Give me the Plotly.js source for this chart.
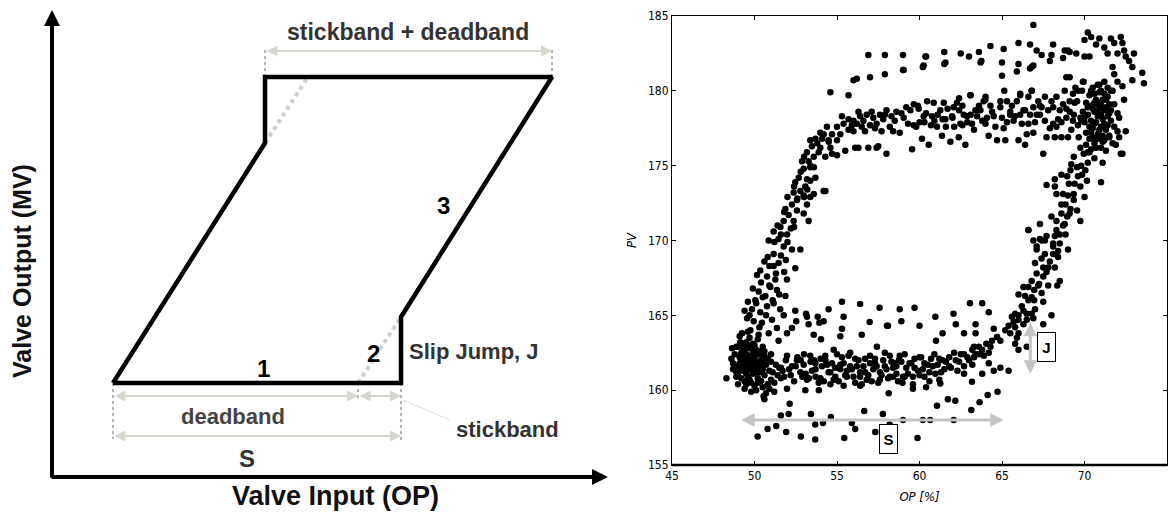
<!DOCTYPE html>
<html>
<head>
<meta charset="utf-8">
<script src="https://cdn.plot.ly/plotly-3.0.1.min.js"></script>
<style>html,body{margin:0;padding:0;background:#fff;}#chart{width:1171px;height:516px;}</style>
</head>
<body>
<div id="chart"></div>
<script>
// ---------- Left panel: stiction schematic (diagram units: px right of / above the axis corner) ----------
const loopX = [61, 349, 349, 500, 213, 213, 61];
const loopY = [94, 94, 160, 400, 400, 334, 94];
const idealUpperX = [213, 256];
const idealUpperY = [334, 400];
const idealLowerX = [306, 349];
const idealLowerY = [94, 160];
const dimTicksX = [[213, 213], [500, 500], [61, 61], [306, 306], [349, 349]];
const dimTicksY = [[400, 428], [400, 428], [94, 38], [94, 77], [94, 37]];
const leaderX = [351, 398];
const leaderY = [77, 57];
const axisCornerX = 0, axisCornerY = 0, yAxisTop = 467, xAxisEnd = 556;
const dimArrows = [ // [x0, x1, y]
  [213, 500, 426],
  [61, 306, 81],
  [306, 349, 81],
  [61, 349, 41]
];
const diagramLabels = ["stickband + deadband", "deadband", "S", "1", "2", "3", "Slip Jump, J", "stickband"];
const diagramLabelX = [356, 181, 195, 211, 321, 391, 422, 455];
const diagramLabelY = [445, 61, 19, 109, 124, 272, 126, 48];
const diagramLabelSize = [23, 22, 24, 24, 24, 24, 22, 22];
const diagramLabelColor = ["#333", "#444", "#333", "#000", "#000", "#000", "#333", "#333"];

// ---------- Right panel: OP (%) vs PV scatter ----------
const opLowCluster = [48.3,48.7,48.8,48.9,49.0,49.0,49.1,49.2,49.2,49.3,49.3,49.4,49.4,49.5,49.5,49.5,49.6,49.6,49.7,49.7,49.7,49.8,49.8,49.9,49.9,50.0,50.0,50.0,50.1,50.1,50.2,50.2,50.3,50.3,50.4,50.4,50.5,50.5,50.6,50.6,50.7,50.8,50.8,50.9,51.0,51.0,51.1,51.2,51.3,51.4,51.5,51.6,51.7,49.1,49.6,49.9,50.2,50.5,49.4,49.8,50.1,48.9,49.3,50.7,51.2,50.6,49.5,49.9,50.3,49.2,49.6,50.0,50.4,48.6,48.8,51.0,49.0,50.9,48.64,48.7,
  49.0,49.2,49.4,49.6,49.8,50.0,50.2,50.4,50.6,49.1,49.3,49.5,49.7,49.9,50.1,50.3,50.5,49.2,49.6,50.0,50.4,49.4,49.8,50.2,48.9];
const pvLowCluster = [160.8,161.8,162.4,161.2,162.9,161.6,162.2,160.8,161.9,162.6,161.3,162.0,160.6,163.2,161.7,162.4,160.9,162.8,161.4,162.1,163.5,160.5,161.8,162.6,161.1,162.2,160.3,163.0,161.5,162.7,160.8,161.9,162.4,161.2,160.6,162.0,161.4,160.2,162.3,161.0,161.7,160.4,162.1,161.3,160.7,161.9,161.2,160.5,161.7,161.0,161.5,160.8,161.3,163.6,163.9,163.1,163.4,162.9,160.1,159.9,160.0,162.9,163.0,159.8,159.9,159.4,161.1,161.6,161.7,161.4,162.3,161.3,162.6,162.1,161.5,162.4,160.4,160.1,162.8,161.4,
  161.1,162.5,161.6,161.4,163.0,161.8,162.4,161.5,162.6,161.8,162.2,160.4,160.7,162.0,161.2,160.6,161.9,163.1,161.9,162.6,161.8,162.8,162.3,160.5,160.9];

const opLeftRise = [52.47,51.97,51.87,51.16,51.46,51.26,50.76,50.35,50.15,50.96,51.36,50.66,50.25,50.05,51.16,51.56,50.76,50.35,49.85,49.55,49.95,50.45,51.06,51.36,50.86,50.25,49.75,49.24,49.14,51.46,51.77,51.97,49.4,49.6,49.9,50.4,50.6,50.9,51.6,51.8,
  50.86,51.16,51.46,51.97,51.77,51.16,52.27,52.78,51.57,51.77,52.07,52.37,51.87,52.27,52.57,52.98,53.28,52.57,52.98,53.18,52.78,52.37,52.47,53.08,53.38,53.59,52.68,52.98,53.18,53.38,53.69,54.19,52.88,53.28,53.59,53.38,53.89,53.18,53.48,53.69,53.99,53.38,54.19,54.29,54.6,54.49,54.7,55.0,55.0,54.39,53.99,54.7,55.2,55.4,55.7,54.3,55.5,55.0,
  49.7,50.1,50.5,50.9,51.3,50.3,50.7,51.1,51.5,51.9,50.8,51.2,51.6,52.0,52.4,51.4,51.8,52.2,52.6,53.0,52.0,52.4,52.8,53.2,53.6,53.0,53.4,53.8,54.1,54.5];
const pvLeftRise = [168.15,167.4,166.3,168.3,168.5,167.4,167.6,168.0,167.7,166.9,166.7,166.3,166.6,166.0,165.8,165.4,165.6,165.2,165.4,164.8,164.6,164.5,164.7,164.15,163.8,163.7,164.0,163.8,163.2,163.3,165.0,163.8,165.3,165.9,166.8,167.2,168.6,168.3,169.0,167.9,
  170.0,170.6,170.1,170.4,169.6,169.1,169.4,169.4,170.9,171.3,171.7,171.3,172.1,172.4,172.0,171.8,171.3,172.7,173.0,172.4,173.3,173.2,173.9,173.6,172.9,173.1,174.2,174.8,174.1,174.0,174.2,173.3,175.3,175.3,175.6,174.9,175.9,175.9,176.3,176.8,176.2,176.7,177.1,175.6,176.2,176.7,177.1,177.6,176.7,177.6,177.2,175.8,177.1,177.8,177.4,173.3,176.0,175.7,
  165.0,165.8,166.2,167.0,167.8,164.2,165.0,166.0,166.4,168.7,168.9,169.9,170.4,169.9,170.9,171.0,171.9,170.8,172.8,172.9,172.9,173.6,174.6,173.4,174.9,175.6,175.0,176.5,176.8,176.6];

const opTopBand = [55.3,55.7,56.0,56.0,56.2,56.4,56.6,56.8,57.0,57.2,57.4,57.6,57.8,58.0,58.2,58.5,58.6,56.3,56.1,57.5,58.0,56.9,57.4,
  59.04,59.45,59.65,59.55,59.65,59.95,60.25,60.15,60.46,60.56,60.76,60.86,61.06,61.26,61.36,61.47,61.57,61.87,61.97,62.07,62.27,62.38,62.48,62.68,62.78,62.88,63.08,63.18,63.39,63.49,63.69,63.89,63.99,64.09,64.19,64.4,64.7,64.9,65.0,65.2,65.3,65.5,65.7,65.9,66.0,66.1,66.3,66.4,66.5,66.6,66.7,66.8,66.9,67.0,67.2,67.3,67.5,67.6,67.7,67.8,68.0,68.1,68.2,68.3,68.5,68.6,68.7,68.8,68.9,69.0,69.1,69.2,69.35,69.45,69.55,69.65,69.75,69.85,69.95,
  56.5,57.1,57.7,58.3,58.8,59.2,59.8,60.3,60.9,61.7,62.1,62.6,63.3,63.8,64.3,64.6,65.1,65.6,66.2,66.9,67.4,67.9,68.4,68.9,69.3,69.6,
  55.9,56.3,56.7,57.3,57.9,58.4,58.9,59.3,59.9,60.4,60.7,61.1,61.6,62.0,62.4,62.9,63.1,63.6,64.0,64.5,64.9,65.3,65.8,66.1,66.6,67.1,67.6,68.1,68.6,69.1,69.4,69.8,60.0,61.4,62.6,63.9,65.5,66.4,67.3,68.3];
const pvTopBand = [178.3,178.1,178.0,177.3,177.8,178.3,178.0,178.4,177.7,178.2,177.8,178.4,178.1,178.7,177.6,178.0,178.6,176.2,176.2,176.3,175.8,176.2,176.2,
  178.2,178.7,179.1,176.1,177.7,178.8,178.3,176.8,179.3,176.4,178.3,179.2,177.6,178.7,177.0,179.2,178.1,176.6,178.3,178.9,179.2,176.9,177.8,178.4,176.4,178.3,179.7,177.8,178.7,178.3,178.7,179.3,179.4,178.2,177.0,178.6,176.7,179.3,178.2,176.7,179.3,178.6,178.0,179.3,176.7,179.8,178.7,176.4,177.1,179.6,178.4,180.0,178.9,177.9,179.3,178.4,175.8,179.6,176.9,178.7,179.3,177.8,176.9,179.6,178.7,176.9,179.1,180.0,178.2,176.9,179.3,177.4,178.4,180.2,179.3,176.9,178.2,180.0,180.6,
  177.6,178.6,177.3,178.3,177.2,178.9,177.6,177.9,178.0,178.8,177.6,179.0,177.4,178.0,179.0,177.6,177.5,179.0,177.8,177.2,178.9,177.5,178.1,178.8,178.0,177.7,
  177.7,178.6,177.3,177.5,178.4,177.3,178.5,177.8,179.0,178.5,177.7,178.4,177.6,178.2,178.7,177.9,178.4,179.0,177.8,178.3,178.9,177.9,178.3,178.4,177.8,178.4,178.0,178.9,177.9,178.6,179.2,178.0,177.9,178.1,177.7,178.0,178.4,178.7,179.0,177.6];

const opTopCluster = [69.9,70.0,70.1,70.1,70.2,70.3,70.3,70.4,70.4,70.5,70.5,70.6,70.6,70.7,70.7,70.8,70.8,70.9,70.9,71.0,71.0,71.0,71.1,71.1,71.2,71.2,71.3,71.3,71.4,71.5,71.5,71.6,71.7,71.8,70.2,70.6,71.1,70.9,70.4,71.4,71.0,71.4,71.7,71.8,72.1,72.0,72.2,71.9,71.5,71.0,72.4,72.5,71.6,72.0,72.1,72.3,
  70.0,70.2,70.3,70.5,70.6,70.7,70.8,70.9,71.0,71.1,71.2,71.3,71.4,71.5,70.4,70.6,70.8,71.0,71.2,70.5,70.7,70.9,71.1,71.3,70.3,70.1];
const pvTopCluster = [178.6,177.9,179.2,177.2,178.4,179.7,176.8,178.0,179.0,177.5,180.2,178.6,176.5,177.9,179.4,178.3,177.1,179.9,178.8,177.6,176.2,179.2,178.1,177.0,178.7,179.8,177.4,176.0,178.3,179.1,177.0,178.0,176.5,177.6,175.9,175.5,175.2,180.4,180.0,180.2,180.0,179.6,180.0,179.1,178.2,177.3,175.8,176.4,176.9,173.9,179.4,177.3,178.7,178.5,176.9,175.8,
  178.2,178.9,177.6,178.8,177.8,178.6,179.1,177.4,178.4,179.4,177.8,178.9,177.7,178.5,177.2,179.2,176.8,178.9,176.7,176.9,176.2,176.9,176.6,179.4,175.9,176.4];

const opRightFall = [69.75,69.95,69.35,69.2,69.55,69.85,70.05,70.15,69.15,68.95,69.05,69.75,69.35,68.7,68.2,68.3,67.7,68.2,68.6,69.35,68.85,69.15,69.55,69.75,68.6,68.95,68.3,68.0,68.7,68.3,68.5,68.85,69.0,67.3,66.6,67.7,67.6,67.3,68.1,68.1,67.1,68.1,68.4,
  66.6,66.9,67.1,67.4,67.6,67.5,67.0,67.1,66.8,67.25,67.5,67.8,68.2,68.5,68.35,66.6,66.95,67.4,66.3,66.0,66.6,66.95,67.5,68.0,67.5,66.3,66.5,66.8,66.0,65.8,65.6,65.7,65.4,65.8,65.2,65.5,66.0,66.5,
  66.2,66.4,66.8,67.2,67.0,67.4,67.8,67.9,68.2,68.5,68.8,69.1,68.6,69.0,69.4,69.8,70.2,70.4,69.6,70.0,68.4,67.7,66.9,66.3,65.9];
const pvRightFall = [176.2,175.8,175.6,175.1,174.9,174.4,174.7,174.0,174.7,174.3,173.8,173.6,173.1,173.1,173.6,173.1,173.7,174.1,174.4,172.7,172.4,172.1,172.0,171.3,171.8,171.6,171.3,171.6,171.0,170.7,170.4,170.4,169.4,171.1,170.7,170.3,170.0,170.1,169.8,169.6,169.4,169.1,169.3,
  170.7,170.0,169.6,170.0,169.1,168.2,168.5,167.8,167.3,167.1,167.6,168.2,168.2,167.3,167.0,166.9,166.7,166.5,166.9,166.4,166.0,166.0,165.9,165.0,164.4,165.3,165.1,165.1,165.0,165.1,164.9,164.55,164.3,164.2,164.0,163.8,164.7,164.7,
  165.6,166.3,166.2,167.0,165.4,168.8,167.0,168.6,170.3,169.8,171.1,171.8,172.4,173.0,173.8,175.0,175.2,176.1,174.3,172.9,168.9,167.9,164.8,164.4,163.5];

const opBottomBand = [51.97,52.27,52.57,52.78,52.98,53.18,53.38,53.48,53.69,53.89,54.09,54.29,54.49,54.7,54.8,55.0,55.2,55.4,55.6,55.7,55.9,56.1,56.3,56.4,56.6,56.8,57.0,57.2,57.3,57.5,57.6,57.8,58.0,58.2,58.4,58.6,
  51.8,52.1,52.4,52.6,52.9,53.0,53.3,53.6,53.7,54.0,54.2,54.4,54.6,54.9,55.1,55.3,55.6,55.8,56.0,56.2,56.5,56.7,56.9,57.1,57.4,57.7,57.9,58.1,58.3,58.7,59.0,59.2,59.6,60.2,60.6,
  58.4,58.75,59.1,59.3,59.5,59.9,60.1,60.3,60.5,60.7,60.96,61.2,60.4,59.6,58.97,
  64.5,64.7,64.4,64.9,64.05,63.8,64.3,63.6,63.4,63.2,62.9,62.7,62.5,62.2,61.8,61.6,61.4,61.1,64.2,64.5,63.8,62.7,63.2,64.9,65.4,66.0,66.5,65.8,66.0,61.3,61.9,62.3,60.8,60.0,59.7,58.9,58.6,
  50.55,51.97,53.08,53.9,55.4,56.4,59.6,61.26,63.18,
  51.6,51.9,52.2,52.5,52.8,53.1,53.4,53.7,54.0,54.3,54.6,54.9,55.2,55.5,55.8,56.1,56.4,56.7,57.0,57.3,57.6,57.9,58.2,58.5,58.8,59.1,59.4,59.7,60.0,60.3,60.6,60.9,61.2,61.5,61.8,62.1,62.4,62.7,63.0,63.3,63.6,63.9,64.2];
const pvBottomBand = [162.3,161.6,162.0,161.2,161.7,160.7,162.3,161.3,161.8,160.5,161.6,162.3,161.2,161.8,160.7,162.4,161.4,161.8,160.9,162.3,161.4,160.5,162.0,161.2,161.6,160.7,162.3,161.4,161.8,160.5,161.2,162.0,161.4,162.3,160.9,161.6,
  160.9,161.4,160.6,162.2,160.9,162.4,160.8,162.0,160.9,162.1,160.6,161.7,160.4,161.5,160.6,162.2,161.3,162.5,160.9,161.6,160.4,162.1,161.0,160.6,161.6,161.0,162.5,160.8,161.9,160.6,160.9,161.5,160.9,161.4,160.6,
  161.5,162.0,162.4,161.1,161.8,161.3,162.2,160.9,161.7,162.1,161.1,160.7,160.2,160.4,160.5,
  164.1,163.55,163.3,163.3,163.1,162.7,162.9,162.9,162.4,162.7,162.2,162.4,162.4,162.0,162.2,161.9,162.0,161.7,161.8,161.3,161.1,161.1,161.7,161.5,161.3,162.7,162.9,163.1,163.8,161.2,161.5,161.3,161.6,161.0,162.1,161.9,161.1,
  159.6,160.1,160.0,160.0,160.3,160.3,160.1,160.45,160.56,
  161.5,162.0,161.0,161.6,162.0,161.1,161.9,161.4,160.8,162.0,161.2,160.9,161.7,161.0,161.6,162.1,160.9,161.2,161.8,162.1,160.7,161.6,160.9,161.8,162.3,160.9,161.8,161.5,162.2,161.8,161.2,162.4,162.1,161.4,161.6,162.5,161.9,161.6,162.0,162.2,162.4,162.3,162.5];

const opMidSparse = [52.47,52.53,52.27,53.12,53.18,53.28,53.59,53.83,53.93,54.03,54.19,54.49,54.8,55.2,55.3,55.3,55.4,56.4,56.5,56.98,57.42,57.58,58.03,
  58.09,58.8,58.9,59.7,60.0,60.96,61.4,61.0,62.06,62.2,63.06,63.4,63.8,64.2,63.3,62.7,63.4];
const pvMidSparse = [165.3,164.6,164.15,165.1,164.9,164.4,163.7,164.9,164.5,163.4,164.6,165.4,162.7,163.6,164.1,165.9,164.9,165.75,163.7,164.55,162.9,165.5,164.3,
  164.3,165.4,164.6,165.5,164.3,164.9,163.8,163.3,165.1,164.4,165.8,164.4,165.8,165.2,162.9,163.8,163.8];

const opLowerSparse = [50.19,50.79,51.32,51.6,51.92,52.07,52.13,52.81,53.42,53.68,53.68,54.15,54.63,55.44,55.9,56.1,56.65,57.32,57.78,58.19,59.0,59.88,60.2,60.65,61.06,61.72,62.07,62.17,63.14,63.64,64.13,64.73,58.13];
const pvLowerSparse = [156.9,157.4,157.6,158.3,157.2,158.4,159.1,156.9,158.4,157.7,156.7,157.8,158.2,156.8,157.8,157.4,158.6,157.2,158.4,157.7,158.0,156.8,158.0,158.0,158.96,159.4,158.0,159.3,158.67,159.2,159.67,159.9,159.8];

const opUpperSparse = [56.9,57.9,59.0,61.5,60.4,62.5,63.0,63.6,64.3,63.7,65.1,65.0,66.0,66.0,66.7,66.9,67.1,66.8,67.4,68.1,68.0,68.8,69.1,69.5,68.9,69.1,70.0,70.2,70.4,70.7,70.0,70.3,70.9,71.2,71.4,71.6,71.8,72.0,72.2,72.3,72.4,72.5,72.7,72.9,73.0,71.7,71.8,72.0,72.3,72.9,73.5,73.6,71.6,71.2,70.8,69.9,69.6,70.6,69.3,66.8,66.1,63.1,64.0,62.4,54.6,55.7,56.0,56.2,57.0,57.9,59.0,60.2,61.5,65.0,65.9,66.7,66.9,
  59.04,60.25,60.36,61.57,63.75,65.14,67.9,68.7,69.0];
const pvUpperSparse = [182.4,182.4,182.4,182.6,182.3,182.5,182.3,182.6,183.0,181.9,182.8,181.9,183.2,181.8,183.1,184.4,182.7,181.6,182.4,183.1,182.4,182.7,182.6,182.5,180.9,180.9,183.4,183.9,183.6,183.1,182.3,182.3,183.5,182.9,182.5,183.5,183.2,182.5,183.6,183.2,182.7,182.3,182.0,181.6,182.5,181.6,181.1,180.6,180.3,180.7,181.2,180.5,180.0,180.6,180.4,180.6,180.0,179.8,179.8,180.0,179.7,179.7,179.6,179.5,179.9,179.7,180.7,180.8,180.9,181.1,181.4,181.6,181.8,181.0,181.3,181.5,181.7,
  181.4,181.7,182.3,181.9,182.0,180.0,182.0,182.2,182.7];

const xTicks = [45, 50, 55, 60, 65, 70, 75];
const yTicks = [155, 160, 165, 170, 175, 180, 185];
const sArrow = {op0: 49.1, op1: 65.1, pv: 158.0, labelOP: 58.14, labelPV: 156.73};
const jArrow = {op: 66.72, pv0: 161.1, pv1: 164.6, labelOP: 67.72, labelPV: 162.87};

// ---------- build ----------
const allOP = [].concat(opLowCluster, opLeftRise, opTopBand, opTopCluster, opRightFall, opBottomBand, opMidSparse, opLowerSparse, opUpperSparse);
const allPV = [].concat(pvLowCluster, pvLeftRise, pvTopBand, pvTopCluster, pvRightFall, pvBottomBand, pvMidSparse, pvLowerSparse, pvUpperSparse);

const boldFont = "Liberation Sans, Arial, sans-serif";
const narrowFont = "Liberation Sans Narrow, Arial Narrow, DejaVu Sans Condensed, Liberation Sans, sans-serif";

const traces = [];
traces.push({x: idealUpperX, y: idealUpperY, xaxis: 'x', yaxis: 'y', mode: 'lines', line: {color: '#cfcfcf', width: 4, dash: 'dot'}, hoverinfo: 'skip'});
traces.push({x: idealLowerX, y: idealLowerY, xaxis: 'x', yaxis: 'y', mode: 'lines', line: {color: '#cfcfcf', width: 4, dash: 'dot'}, hoverinfo: 'skip'});
for (let i = 0; i < dimTicksX.length; i++) {
  traces.push({x: dimTicksX[i], y: dimTicksY[i], xaxis: 'x', yaxis: 'y', mode: 'lines', line: {color: '#666', width: 1, dash: 'dot'}, hoverinfo: 'skip'});
}
traces.push({x: leaderX, y: leaderY, xaxis: 'x', yaxis: 'y', mode: 'lines', line: {color: '#e2e2e2', width: 1.2}, hoverinfo: 'skip'});
traces.push({x: loopX, y: loopY, xaxis: 'x', yaxis: 'y', mode: 'lines', line: {color: '#000', width: 4.5}, hoverinfo: 'skip'});
traces.push({x: allOP, y: allPV, xaxis: 'x2', yaxis: 'y2', mode: 'markers', marker: {color: '#000', size: 6.5, line: {width: 0}}, hoverinfo: 'skip'});

const annotations = [];
annotations.push({xref: 'x', yref: 'y', axref: 'x', ayref: 'y', x: axisCornerX, y: yAxisTop, ax: axisCornerX, ay: axisCornerY - 2, text: '', showarrow: true, arrowhead: 2, arrowsize: 0.8, arrowwidth: 4, arrowcolor: '#000', standoff: 0});
annotations.push({xref: 'x', yref: 'y', axref: 'x', ayref: 'y', x: xAxisEnd, y: axisCornerY, ax: axisCornerX - 2, ay: axisCornerY, text: '', showarrow: true, arrowhead: 2, arrowsize: 0.8, arrowwidth: 4, arrowcolor: '#000', standoff: 0});
dimArrows.forEach(d => {
  annotations.push({xref: 'x', yref: 'y', axref: 'x', ayref: 'y', x: d[1], y: d[2], ax: d[0], ay: d[2], text: '', showarrow: true, arrowside: 'end+start', arrowhead: 2, startarrowhead: 2, arrowsize: 1.1, startarrowsize: 1.1, arrowwidth: 2, arrowcolor: '#d3d7cc', standoff: 0, startstandoff: 0});
});
diagramLabels.forEach((t, i) => {
  annotations.push({xref: 'x', yref: 'y', x: diagramLabelX[i], y: diagramLabelY[i], text: t, showarrow: false, font: {family: boldFont, size: diagramLabelSize[i], color: diagramLabelColor[i], weight: 'bold'}});
});
annotations.push({xref: 'x', yref: 'y', x: 283, y: -19, text: 'Valve Input (OP)', showarrow: false, font: {family: boldFont, size: 27, color: '#111', weight: 'bold'}});
annotations.push({xref: 'x', yref: 'y', x: -30, y: 206, text: 'Valve Output (MV)', textangle: -90, showarrow: false, font: {family: boldFont, size: 25, color: '#111', weight: 'bold'}});

annotations.push({xref: 'x2', yref: 'y2', axref: 'x2', ayref: 'y2', x: sArrow.op1, y: sArrow.pv, ax: sArrow.op0, ay: sArrow.pv, text: '', showarrow: true, arrowside: 'end+start', arrowhead: 2, startarrowhead: 2, arrowsize: 0.9, startarrowsize: 0.9, arrowwidth: 3, arrowcolor: '#c4c4c4', standoff: 0, startstandoff: 0});
annotations.push({xref: 'x2', yref: 'y2', axref: 'x2', ayref: 'y2', x: jArrow.op, y: jArrow.pv0, ax: jArrow.op, ay: jArrow.pv1, text: '', showarrow: true, arrowside: 'end+start', arrowhead: 2, startarrowhead: 2, arrowsize: 0.9, startarrowsize: 0.9, arrowwidth: 3, arrowcolor: '#c4c4c4', standoff: 0, startstandoff: 0});
annotations.push({xref: 'x2', yref: 'y2', x: sArrow.labelOP, y: sArrow.labelPV, text: 'S', showarrow: false, width: 17, height: 28, borderpad: 0, bordercolor: '#000', borderwidth: 1, bgcolor: '#fff', font: {family: boldFont, size: 15, color: '#000', weight: 'bold'}});
annotations.push({xref: 'x2', yref: 'y2', x: jArrow.labelOP, y: jArrow.labelPV, text: 'J', showarrow: false, width: 17, height: 28, borderpad: 0, bordercolor: '#000', borderwidth: 1, bgcolor: '#fff', font: {family: boldFont, size: 15, color: '#000', weight: 'bold'}});

const layout = {
  width: 1171, height: 516,
  margin: {l: 0, r: 0, t: 0, b: 0},
  paper_bgcolor: '#fff', plot_bgcolor: 'rgba(0,0,0,0)',
  showlegend: false,
  xaxis: {domain: [0, 609 / 1171], range: [-52, 557], visible: false, fixedrange: true},
  yaxis: {domain: [0, 1], range: [-39, 477], visible: false, fixedrange: true, anchor: 'x'},
  xaxis2: {domain: [672 / 1171, 1167 / 1171], range: [45, 75], anchor: 'y2', tickvals: xTicks, ticktext: xTicks.map(String),
    ticks: 'inside', ticklen: 4, tickcolor: '#000', showline: true, linecolor: '#000', linewidth: 1, mirror: 'allticks',
    showgrid: false, zeroline: false, tickfont: {family: narrowFont, size: 12, color: '#000'},
    title: {text: 'OP [%]', standoff: 9, font: {family: narrowFont, size: 13, color: '#000', style: 'italic'}}},
  yaxis2: {domain: [1 - 465 / 516, 1 - 16 / 516], range: [155, 185], anchor: 'x2', tickvals: yTicks, ticktext: yTicks.map(String),
    ticks: 'inside', ticklen: 4, tickcolor: '#000', showline: true, linecolor: '#000', linewidth: 1, mirror: 'allticks',
    showgrid: false, zeroline: false, tickfont: {family: narrowFont, size: 12, color: '#000'},
    title: {text: 'PV', standoff: 8, font: {family: narrowFont, size: 13, color: '#000', style: 'italic'}}},
  shapes: [{type: 'line', xref: 'x2 domain', yref: 'y2 domain', x0: 0, x1: 1, y0: 0, y1: 0, line: {color: '#000', width: 2.5}}],
  annotations: annotations
};

Plotly.newPlot('chart', traces, layout, {displayModeBar: false, staticPlot: true});
</script>
</body>
</html>
